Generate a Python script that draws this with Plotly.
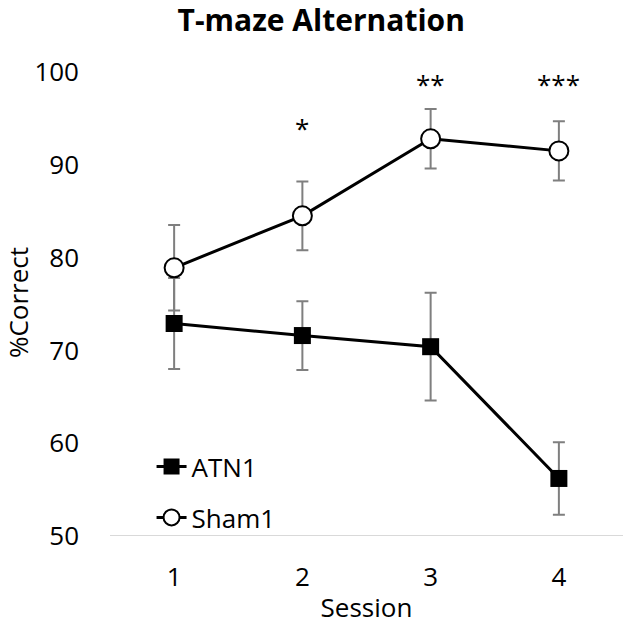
import plotly.graph_objects as go

sessions = ["1", "2", "3", "4"]
atn_mean = [72.9, 71.6, 70.4, 56.2]
atn_err = [4.9, 3.7, 5.8, 3.9]
sham_mean = [78.9, 84.5, 92.8, 91.5]
sham_err = [4.6, 3.7, 3.2, 3.2]
stars = ["", "*", "**", "***"]
star_y = [None, 94.0, 98.7, 98.7]
y_ticks = [50, 60, 70, 80, 90, 100]

FONT = "Open Sans"
fig = go.Figure()

fig.add_trace(go.Scatter(
    x=[1, 2, 3, 4], y=atn_mean, name="ATN1", mode="lines+markers",
    legendgroup="a",
    line=dict(color="black", width=3),
    marker=dict(symbol="square", size=17, color="black"),
    error_y=dict(type="data", array=atn_err, color="#7f7f7f", thickness=2, width=6),
))
fig.add_trace(go.Scatter(
    x=[1, 2, 3, 4], y=sham_mean, name="Sham1", mode="lines+markers",
    legendgroup="b",
    line=dict(color="black", width=3),
    marker=dict(symbol="circle", size=19, color="white", line=dict(color="black", width=2)),
    error_y=dict(type="data", array=sham_err, color="#7f7f7f", thickness=2, width=6),
))

for i, s in enumerate(stars):
    if s:
        fig.add_annotation(x=i + 1, y=star_y[i], text=s, showarrow=False,
                           font=dict(family=FONT, size=26, color="black"),
                           yanchor="middle", xanchor="center")

# y-axis title
fig.add_annotation(text="%Correct", xref="paper", yref="paper",
                   x=-0.1793, y=0.502, xanchor="center", yanchor="middle",
                   textangle=-90, showarrow=False,
                   font=dict(family=FONT, size=26, color="black"))

fig.update_layout(
    width=625, height=625,
    margin=dict(l=110, r=2, t=72, b=89),
    paper_bgcolor="white", plot_bgcolor="white",
    title=dict(text="<b>T-maze Alternation</b>", x=0.514, xanchor="center",
               y=0.968, yanchor="middle",
               font=dict(family=FONT, size=30, color="black")),
    font=dict(family=FONT, size=26, color="black"),
    showlegend=True,
    legend=dict(x=0.081, y=0.20, xanchor="left", yanchor="top",
                bgcolor="rgba(0,0,0,0)", tracegroupgap=14,
                font=dict(family=FONT, size=26, color="black")),
)
fig.update_xaxes(
    tickmode="array", tickvals=[1, 2, 3, 4], ticktext=sessions,
    range=[0.5, 4.5], showgrid=False, zeroline=False,
    showline=False, ticks="", automargin=False,
    title=dict(text="Session", font=dict(family=FONT, size=26), standoff=12),
    tickfont=dict(family=FONT, size=26), ticklabelstandoff=23,
)
fig.update_yaxes(
    tickmode="array", tickvals=y_ticks, range=[50, 100],
    showgrid=False, zeroline=False, showline=False, ticks="", automargin=False,
    tickfont=dict(family=FONT, size=26), ticklabelstandoff=30,
)
fig.add_hline(y=50, line=dict(color="#d9d9d9", width=2), layer="below")

fig.write_html("out.html", config={"displayModeBar": False},
               post_script="document.body.style.margin='0';document.body.style.overflow='hidden';")
